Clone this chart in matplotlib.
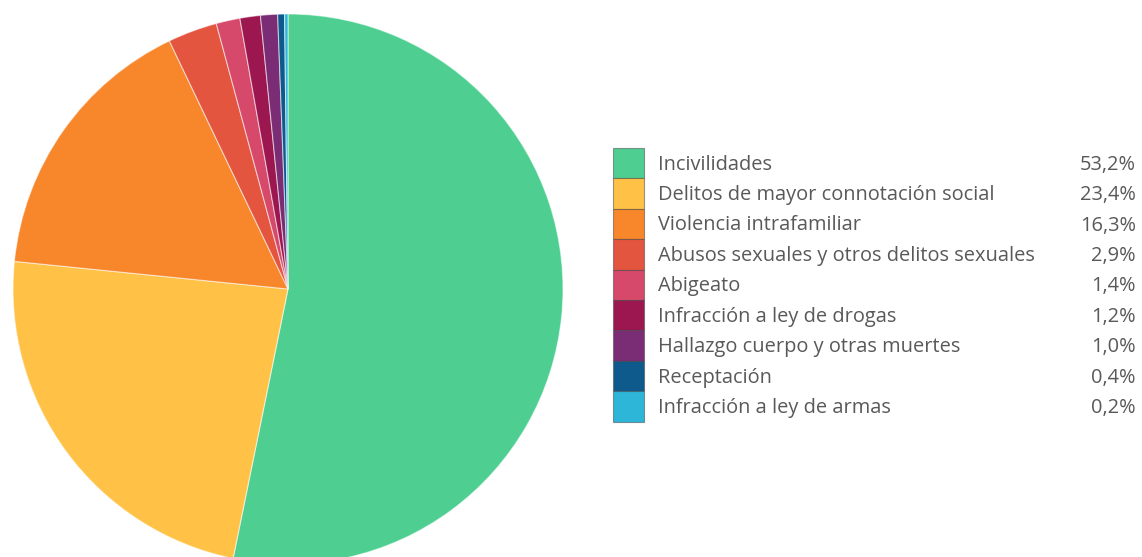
import matplotlib
matplotlib.use("Agg")
import matplotlib.pyplot as plt
from matplotlib.patches import Rectangle

categories = [
    "Incivilidades",
    "Delitos de mayor connotación social",
    "Violencia intrafamiliar",
    "Abusos sexuales y otros delitos sexuales",
    "Abigeato",
    "Infracción a ley de drogas",
    "Hallazgo cuerpo y otras muertes",
    "Receptación",
    "Infracción a ley de armas",
]
values = [53.2, 23.4, 16.3, 2.9, 1.4, 1.2, 1.0, 0.4, 0.2]
pct_labels = ["53,2%", "23,4%", "16,3%", "2,9%", "1,4%", "1,2%", "1,0%", "0,4%", "0,2%"]
colors = ["#4ECF91", "#FFC247", "#F8862B", "#E4553F", "#D6496B",
          "#9C1750", "#7A2C74", "#0E5A8C", "#2DB6D8"]

W, H = 1142, 557
fig = plt.figure(figsize=(W / 100, H / 100), dpi=100)
fig.patch.set_facecolor("white")

# pie axes: pixel box x 13..563, y (top) 14..564
ax = fig.add_axes([13 / W, (H - 564) / H, 550 / W, 550 / H])
ax.pie(values, colors=colors, startangle=90, counterclock=False,
       wedgeprops=dict(edgecolor=(1, 1, 1, 0.55), linewidth=0.8))
ax.set_xlim(-1, 1)
ax.set_ylim(-1, 1)
ax.set_aspect("equal")
ax.axis("off")

# legend
top = 148
row_h = 30.4
sq_x0, sq_x1 = 613, 644
text_x = 658
pct_x = 1136
txt_color = "#595959"
fs = 14.4
for i, (cat, pct, col) in enumerate(zip(categories, pct_labels, colors)):
    y0 = top + i * row_h
    rect = Rectangle((sq_x0 / W, 1 - (y0 + row_h) / H), (sq_x1 - sq_x0) / W, row_h / H,
                     transform=fig.transFigure, facecolor=col,
                     edgecolor=(0.25, 0.25, 0.25, 0.5), linewidth=0.8)
    fig.add_artist(rect)
    yc = 1 - (y0 + row_h / 2 - 1) / H
    fig.text(text_x / W, yc, cat, ha="left", va="center_baseline", fontsize=fs,
             family="Open Sans", color=txt_color)
    fig.text(pct_x / W, yc, pct, ha="right", va="center_baseline", fontsize=fs,
             family="Open Sans", color=txt_color)

fig.savefig("out.png", dpi=100, facecolor="white")
